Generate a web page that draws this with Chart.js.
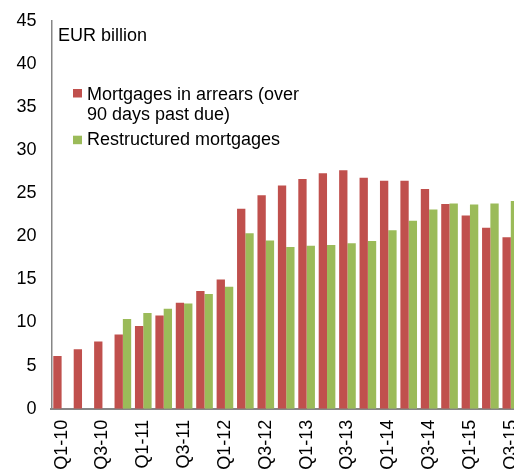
<!DOCTYPE html>
<html>
<head>
<meta charset="utf-8">
<script src="https://cdn.jsdelivr.net/npm/chart.js@4/dist/chart.umd.min.js"></script>
<style>
    html, body { margin: 0; padding: 0; background: #fff; }
    #wrap { width: 514px; height: 470px; overflow: hidden; position: relative; }
    canvas { display: block; }
</style>
</head>
<body>
<div id="wrap"><canvas id="chart" width="521" height="470"></canvas></div>
<script>
const quarters = [
    'Q1-10', 'Q2-10', 'Q3-10', 'Q4-10',
    'Q1-11', 'Q2-11', 'Q3-11', 'Q4-11',
    'Q1-12', 'Q2-12', 'Q3-12', 'Q4-12',
    'Q1-13', 'Q2-13', 'Q3-13', 'Q4-13',
    'Q1-14', 'Q2-14', 'Q3-14', 'Q4-14',
    'Q1-15', 'Q2-15', 'Q3-15',
];

const arrears = [
    6.1, 6.9, 7.8, 8.6,
    9.6, 10.8, 12.3, 13.65,
    15.0, 23.2, 24.75, 25.9,
    26.65, 27.3, 27.65, 26.8,
    26.45, 26.45, 25.5, 23.75,
    22.4, 21.0, 19.9,
];

const restructured = [
    null, null, null, 10.4,
    11.1, 11.6, 12.2, 13.3,
    14.15, 20.35, 19.5, 18.75,
    18.9, 19.0, 19.2, 19.45,
    20.7, 21.8, 23.1, 23.8,
    23.7, 23.8, 24.1,
];

const yTicks = [0, 5, 10, 15, 20, 25, 30, 35, 40, 45];

const legendItems = [
    { color: '#C0504D', lines: ['Mortgages in arrears (over', '90 days past due)'] },
    { color: '#9BBB59', lines: ['Restructured mortgages'] },
];

const font = 'Liberation Sans, Arial, sans-serif';

// legend block and unit label sit inside the plot area
const overlay = {
    id: 'overlay',
    afterDraw(chart) {
        const ctx = chart.ctx;
        ctx.save();
        ctx.fillStyle = '#000';
        ctx.font = `18px ${font}`;
        ctx.textBaseline = 'alphabetic';
        ctx.fillText('EUR billion', 58, 41);

        const rows = [[89, 99.5], [135.7, 145.3]];
        legendItems.forEach((item, i) => {
            const [boxY, baseY] = rows[i];
            ctx.fillStyle = item.color;
            ctx.fillRect(73, boxY, 9, 8.5);
            ctx.fillStyle = '#000';
            item.lines.forEach((line, j) => {
                ctx.fillText(line, 87, baseY + j * 20);
            });
        });
        ctx.restore();
    },
};

new Chart(document.getElementById('chart'), {
    type: 'bar',
    data: {
        labels: quarters,
        datasets: [
            { label: legendItems[0].lines.join(' '), data: arrears, backgroundColor: '#C0504D' },
            { label: legendItems[1].lines[0], data: restructured, backgroundColor: '#9BBB59' },
        ],
    },
    options: {
        responsive: false,
        animation: false,
        devicePixelRatio: 1,
        categoryPercentage: 0.815,
        barPercentage: 1,
        layout: { padding: { top: 20.8, left: 0, right: 0, bottom: 0 } },
        plugins: {
            legend: { display: false },
            tooltip: { enabled: false },
        },
        scales: {
            x: {
                grid: { display: false, drawTicks: false },
                border: { color: '#868686', width: 2 },
                ticks: {
                    autoSkip: false,
                    minRotation: 90,
                    maxRotation: 90,
                    padding: 11,
                    color: '#000',
                    font: { family: font, size: 18 },
                    callback: (value, index) => (index % 2 === 0 ? quarters[index] : ''),
                },
                afterFit: (scale) => {
                    scale.height = 61.3;
                    scale.paddingLeft = 0;
                    scale.paddingRight = 0;
                },
            },
            y: {
                min: 0,
                max: 45,
                grid: { display: false, drawTicks: false },
                border: { color: '#868686', width: 1.5 },
                afterBuildTicks: (scale) => { scale.ticks = yTicks.map((v) => ({ value: v })); },
                ticks: {
                    padding: 15,
                    color: '#000',
                    font: { family: font, size: 18 },
                },
                afterFit: (scale) => {
                    scale.width = 51.4;
                    scale.paddingTop = 0;
                    scale.paddingBottom = 0;
                },
            },
        },
    },
    plugins: [overlay],
});
</script>
</body>
</html>
